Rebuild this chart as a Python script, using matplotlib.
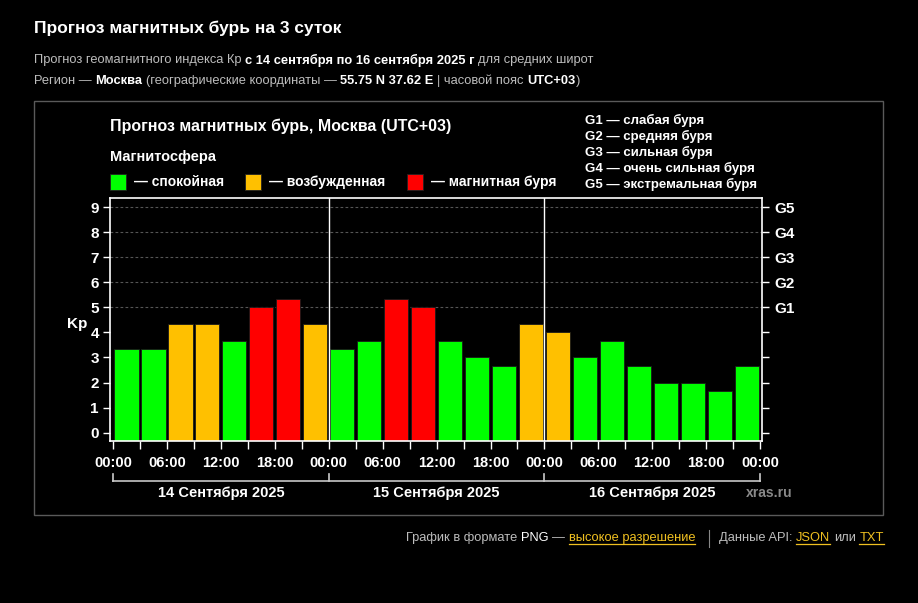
import matplotlib
matplotlib.use("Agg")
import matplotlib.pyplot as plt
from matplotlib.lines import Line2D
from matplotlib.patches import Rectangle
from matplotlib.ticker import MultipleLocator
from matplotlib.transforms import blended_transform_factory

# Kp forecast, 3-hour intervals, 14-16 Sept 2025 (Moscow, UTC+03)
kp_values = [3.33, 3.33, 4.33, 4.33, 3.67, 5.00, 5.33, 4.33,
             3.33, 3.67, 5.33, 5.00, 3.67, 3.00, 2.67, 4.33,
             4.00, 3.00, 3.67, 2.67, 2.00, 2.00, 1.67, 2.67]
hours = [3 * i for i in range(len(kp_values))]
day_labels = ["14 Сентября 2025", "15 Сентября 2025", "16 Сентября 2025"]
time_labels = ["00:00", "06:00", "12:00", "18:00"] * 3 + ["00:00"]
g_levels = ["G1", "G2", "G3", "G4", "G5"]
g_names = ["слабая буря", "средняя буря", "сильная буря",
           "очень сильная буря", "экстремальная буря"]
state_names = ["спокойная", "возбужденная", "магнитная буря"]
state_colors = ["#00ff00", "#ffc000", "#ff0000"]

W, H = 918, 603
FONT = ["Liberation Sans", "DejaVu Sans"]
YBOT = -0.33

fig = plt.figure(figsize=(W / 100, H / 100), dpi=100, facecolor="black")


def fx(px):
    return px / W


def fy(py):
    return 1 - py / H


def kp_color(v):
    if v < 4:
        return state_colors[0]
    if v < 5:
        return state_colors[1]
    return state_colors[2]


def rich_text(x, y, parts, size):
    # parts: (text, color, bold, underline)
    renderer = fig.canvas.get_renderer()
    probe = fig.text(0, 0, "a a", fontsize=size, family=FONT)
    probe2 = fig.text(0, 0, "aa", fontsize=size, family=FONT)
    space = (probe.get_window_extent(renderer).width
             - probe2.get_window_extent(renderer).width)
    probe.remove()
    probe2.remove()
    cur = x
    for txt, color, bold, under in parts:
        lead = len(txt) - len(txt.lstrip(" "))
        trail = len(txt) - len(txt.rstrip(" "))
        cur += lead * space
        t = fig.text(fx(cur), fy(y), txt.strip(" "), color=color, fontsize=size,
                     fontweight="bold" if bold else "normal", family=FONT,
                     va="center", ha="left")
        bb = t.get_window_extent(renderer)
        if under:
            fig.add_artist(Line2D([fx(cur), fx(cur + bb.width)],
                                  [fy(y + 6), fy(y + 6)],
                                  color=color, lw=0.9, transform=fig.transFigure))
        cur += bb.width + trail * space
    return cur


# page header
fig.text(fx(34), fy(28), "Прогноз магнитных бурь на 3 суток", color="white",
         fontsize=12.5, fontweight="bold", family=FONT, va="center")
grey = "#bdbdbd"
rich_text(34, 60, [("Прогноз геомагнитного индекса Кр ", grey, False, False),
                   ("с 14 сентября по 16 сентября 2025 г ", "white", True, False),
                   ("для средних широт", grey, False, False)], 9.3)
rich_text(34, 81, [("Регион — ", grey, False, False),
                   ("Москва ", "white", True, False),
                   ("(географические координаты — ", grey, False, False),
                   ("55.75 N 37.62 E ", "white", True, False),
                   ("| часовой пояс ", grey, False, False),
                   ("UTC+03", "white", True, False),
                   (")", grey, False, False)], 9.3)

# chart frame
fig.add_artist(Rectangle((fx(34), fy(515)), fx(883) - fx(34), fy(101) - fy(515),
                         transform=fig.transFigure, fill=False,
                         edgecolor="#5a5a5a", lw=1))

fig.text(fx(110), fy(126), "Прогноз магнитных бурь, Москва (UTC+03)",
         color="white", fontsize=11.5, fontweight="bold", family=FONT, va="center")
fig.text(fx(110), fy(157), "Магнитосфера", color="white", fontsize=10.5,
         fontweight="bold", family=FONT, va="center")
for xs, name, col in zip([110, 245, 407], state_names, state_colors):
    fig.add_artist(Rectangle((fx(xs), fy(190)), fx(16), 16 / H,
                             transform=fig.transFigure, facecolor=col,
                             edgecolor="#222222", lw=0.6))
    fig.text(fx(xs + 24), fy(182), "— " + name, color="white", fontsize=10,
             fontweight="bold", family=FONT, va="center")
for i, (g, n) in enumerate(zip(g_levels, g_names)):
    fig.text(fx(585), fy(120 + 16.2 * i), g + " — " + n, color="white",
             fontsize=9.5, fontweight="bold", family=FONT, va="center")

# bars
ax = fig.add_axes([fx(110), fy(441), fx(762) - fx(110), fy(198) - fy(441)])
ax.set_facecolor("black")
ax.bar([h + 1.5 for h in hours], [v - YBOT for v in kp_values], bottom=YBOT,
       width=2.7, color=[kp_color(v) for v in kp_values], edgecolor="#1a1a1a",
       linewidth=0.6, zorder=3)
for yv in range(5, 10):
    ax.axhline(yv, color="#555555", lw=0.8, ls=(0, (2.5, 2)), zorder=1)
for xv in [24, 48]:
    ax.axvline(xv, color="white", lw=1, zorder=4)
ax.set_xlim(-0.33, 72.2)
ax.set_ylim(YBOT, 9.36)
for sp in ax.spines.values():
    sp.set_color("white")
    sp.set_linewidth(1.2)
    sp.set_zorder(5)

ax.set_yticks(range(10))
ax.set_yticklabels([str(i) for i in range(10)], fontsize=11, fontweight="bold",
                   family=FONT, color="white")
ax.set_xticks(range(0, 73, 6))
ax.set_xticklabels(time_labels, fontsize=10.5, fontweight="bold", family=FONT,
                   color="white")
ax.xaxis.set_minor_locator(MultipleLocator(3))
ax.tick_params(axis="x", which="both", colors="white", length=6, width=1, pad=5)
ax.tick_params(axis="y", colors="white", length=5, width=1, pad=3)
ax.set_ylabel("Kp", color="white", fontsize=11, fontweight="bold", family=FONT,
              rotation=0, va="center", ha="center")
ax.yaxis.set_label_coords(-0.05, 0.48)

ax2 = ax.twinx()
ax2.set_ylim(ax.get_ylim())
ax2.set_yticks(range(10))
ax2.set_yticklabels([""] * 5 + g_levels, fontsize=11, fontweight="bold",
                    family=FONT, color="white")
ax2.tick_params(axis="y", colors="white", length=5, width=1, pad=4)
for i, tk in enumerate(ax2.yaxis.get_major_ticks()):
    if i < 5:
        tk.tick2line.set_color("#888888")
for sp in ax2.spines.values():
    sp.set_visible(False)

# day bracket under the time axis
tr = blended_transform_factory(ax.transData, ax.transAxes)
ax.plot([0, 72], [-0.165, -0.165], color="#aaaaaa", lw=1.4, transform=tr,
        clip_on=False)
for xv in [0, 24, 48, 72]:
    ax.plot([xv, xv], [-0.165, -0.137], color="#cccccc", lw=1.2, transform=tr,
            clip_on=False)
for i, lab in enumerate(day_labels):
    ax.text(12 + 24 * i, -0.212, lab, transform=tr, ha="center", va="center",
            color="white", fontsize=10.5, fontweight="bold", family=FONT)
fig.text(fx(769), fy(493), "xras.ru", color="#8a8a8a", fontsize=10,
         fontweight="bold", family=FONT, ha="center", va="center")

# footer
gold = "#f0c020"
rich_text(406, 538, [("График в формате ", grey, False, False),
                     ("PNG ", "white", False, False),
                     ("— ", grey, False, False),
                     ("высокое разрешение", gold, False, True)], 9.3)
fig.add_artist(Line2D([fx(709), fx(709)], [fy(530), fy(547)], color="#888888",
                      lw=0.8, transform=fig.transFigure))
rich_text(719, 538, [("Данные API: ", grey, False, False),
                     ("JSON", gold, False, True),
                     (" или ", grey, False, False),
                     ("TXT", gold, False, True)], 9.3)

fig.savefig("out.png", dpi=100, facecolor="black")
